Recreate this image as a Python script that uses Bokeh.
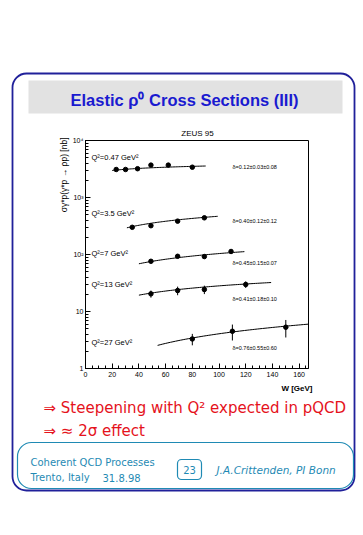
import numpy as np
from bokeh.plotting import figure
from bokeh.models import Range1d, SingleIntervalTicker, LogTicker, LinearScale
from bokeh.core.properties import value
from bokeh.embed import file_html
from bokeh.resources import INLINE

# ---------------- data ----------------
q2_labels = ["Q²=0.47 GeV²", "Q²=3.5 GeV²", "Q²=7 GeV²", "Q²=13 GeV²", "Q²=27 GeV²"]
delta_labels = ["δ=0.12±0.03±0.08", "δ=0.40±0.12±0.12", "δ=0.45±0.15±0.07",
                "δ=0.41±0.18±0.10", "δ=0.76±0.55±0.60"]

w_047 = [23, 30, 39, 49, 62, 80]
s_047 = [3100, 3100, 3200, 3700, 3700, 3400]
e_047 = [90, 90, 100, 150, 150, 150]

w_35 = [35, 49, 69, 89]
s_35 = [300, 320, 385, 440]
e_35 = [15, 18, 20, 25]

w_7 = [49, 69, 89, 109]
s_7 = [76, 93, 92, 113]
e_7 = [5, 7, 7, 9]

w_13 = [49, 69, 89, 120]
s_13 = [20.4, 23.3, 24.3, 29.8]
e_13 = [2.9, 4.0, 4.1, 3.9]

w_27 = [80, 110, 150]
s_27 = [3.3, 4.5, 5.3]
e_27 = [0.75, 1.4, 1.8]

# fits sigma ~ W^delta : W range, value at W=50, exponent
fit_wmin = [20, 31, 40, 40, 54]
fit_wmax = [90, 99, 119, 139, 167]
fit_norm50 = [3325, 356, 76, 21.2, 2.40]
fit_delta = [0.12, 0.40, 0.45, 0.41, 0.76]

y_tick_labels = {1: "1", 10: "10", 100: "10²", 1000: "10³", 10000: "10⁴"}

series = [(w_047, s_047, e_047), (w_35, s_35, e_35), (w_7, s_7, e_7),
          (w_13, s_13, e_13), (w_27, s_27, e_27)]

# ---------------- figure ----------------
W, H = 362, 534
FL, FR, FT, FB = 85, 308, 140, 368   # frame edges on the page
p = figure(width=W, height=H, output_backend="svg", toolbar_location=None,
           x_range=Range1d(0, 167), y_range=Range1d(1, 1e4), y_axis_type="log",
           min_border_left=FL, min_border_right=W - FR, min_border_top=FT,
           min_border_bottom=H - FB)
# page-pixel coordinate system for the slide decorations
p.extra_x_ranges = {"px": Range1d(FL, FR)}
p.extra_y_ranges = {"px": Range1d(FB, FT)}
p.extra_x_scales = {"px": LinearScale()}
p.extra_y_scales = {"px": LinearScale()}

p.background_fill_color = "white"
p.border_fill_color = "white"
p.outline_line_color = "black"
p.outline_line_width = 1
p.grid.visible = False

p.xaxis.ticker = SingleIntervalTicker(interval=20, num_minor_ticks=4)
p.yaxis.ticker = LogTicker(num_minor_ticks=10)
p.yaxis.major_label_overrides = y_tick_labels
for ax in (p.xaxis[0], p.yaxis[0]):
    ax.major_tick_in = 5
    ax.major_tick_out = 0
    ax.minor_tick_in = 3
    ax.minor_tick_out = 0
    ax.axis_line_color = "black"
    ax.major_tick_line_color = "black"
    ax.minor_tick_line_color = "black"
    ax.major_label_text_font = "Liberation Sans"
    ax.major_label_text_font_size = "7px"
    ax.major_label_text_color = "black"
p.xaxis.major_label_standoff = 3
p.yaxis.major_label_standoff = 2

FONT = "Liberation Sans"

for (w, s, e), wmin, wmax, a, d in zip(series, fit_wmin, fit_wmax, fit_norm50, fit_delta):
    ww = np.linspace(wmin, wmax, 60)
    p.line(ww, a * (ww / 50.0) ** d, line_color="black", line_width=1)
    w = np.array(w, float); s = np.array(s, float); e = np.array(e, float)
    p.segment(x0=w, y0=s - e, x1=w, y1=s + e, line_color="black", line_width=1)
    p.scatter(w, s, size=4.5, marker="circle", fill_color="black", line_color="black")


def txt(x, y, text, size, color="black", align="left", baseline="middle",
        font=FONT, style="normal", angle=0.0):
    p.text(x=[x], y=[y], text=[text], x_range_name="px", y_range_name="px",
           text_font_size=size, text_color=color, text_align=align,
           text_baseline=baseline, text_font=value(font),
           text_font_style=style, angle=angle, level="overlay")


def rbox(l, r, t, b, radius, line_color=None, fill_color=None, lw=1.0):
    p.quad(left=[l], right=[r], top=[t], bottom=[b], x_range_name="px",
           y_range_name="px", border_radius=radius,
           fill_color=fill_color, fill_alpha=1 if fill_color else 0,
           line_color=line_color, line_alpha=1 if line_color else 0,
           line_width=lw, level="overlay")


# labels inside the chart (page pixel coordinates)
q2_y = [157, 213, 253, 284, 342]
for t, yy in zip(q2_labels, q2_y):
    txt(91, yy, t, "7.5px")
d_y = [166, 220, 262, 298, 347]
for t, yy in zip(delta_labels, d_y):
    txt(232, yy, t, "5.5px")

txt(197, 133, "ZEUS 95", "8px", align="center")
txt(312, 388, "W [GeV]", "8px", align="right", style="bold")
txt(63, 137, "σγ*p(γ*p → ρp) [nb]", "8.5px", align="right", angle=np.pi / 2)

# ---------------- slide decorations ----------------
NAVY = "#20209a"
BLUE = "#1a1ad0"
RED = "#e5121c"
TEAL = "#1f8ab4"

rbox(12, 354, 73, 490, 14, line_color=NAVY, lw=1.8)
rbox(28, 342, 80, 113, 0, fill_color="#e2e2e2")
txt(184, 99, "Elastic ρ⁰ Cross Sections (III)", "16.5px", color=BLUE,
    align="center", style="bold")

txt(43, 407, "⇒ Steepening with Q² expected in pQCD", "15px", color=RED,
    font="DejaVu Sans")
txt(43, 430, "⇒ ≈ 2σ effect", "15px", color=RED, font="DejaVu Sans")

rbox(17, 353, 442, 488, 14, line_color=TEAL, lw=1.2)
rbox(177, 201, 459, 479, 4, line_color=TEAL, lw=1.2)
txt(30, 462, "Coherent QCD Processes", "10px", color=TEAL, font="DejaVu Sans")
txt(30, 477, "Trento, Italy", "10px", color=TEAL, font="DejaVu Sans")
txt(102, 477, "31.8.98", "10px", color=TEAL, font="DejaVu Sans")
txt(189, 469, "23", "10px", color=TEAL, align="center", font="DejaVu Sans")
txt(216, 469, "J.A.Crittenden, PI Bonn", "10.5px", color=TEAL, font="DejaVu Sans",
    style="italic")

open("out.html", "w").write(file_html(p, INLINE))
